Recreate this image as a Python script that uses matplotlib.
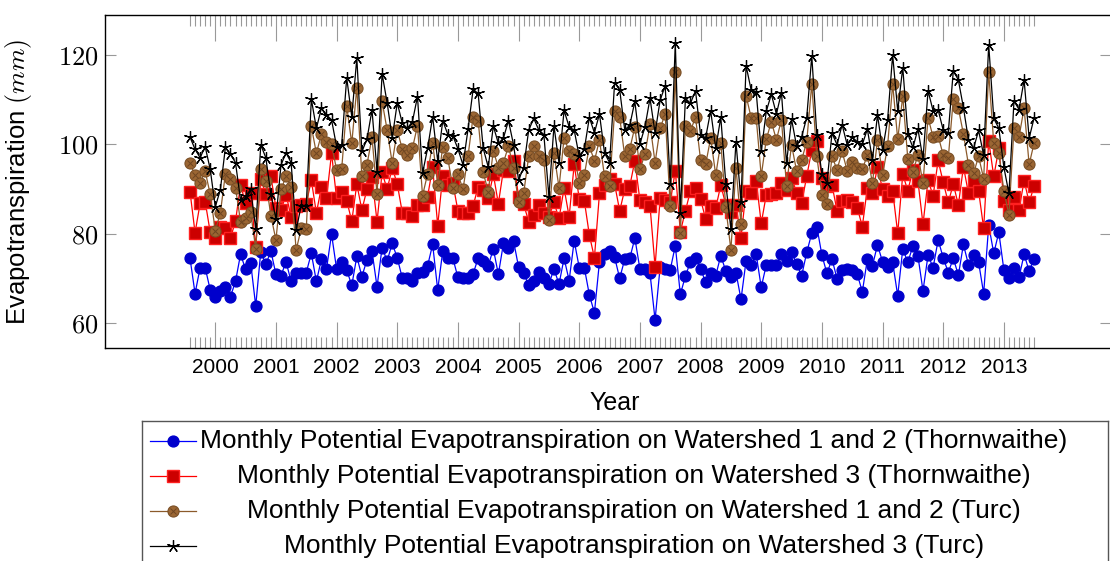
import numpy as np
import matplotlib.pyplot as plt
from matplotlib.ticker import FixedLocator
from matplotlib.lines import Line2D

plt.rcParams['font.family'] = ['Liberation Sans', 'DejaVu Sans']
plt.rcParams['mathtext.fontset'] = 'cm'

# meses: primer punto en 2000 - 5/12, pasos de 1/12
n_meses = 168
anio_ini = 2000 - 5 / 12

etp_thorn_12 = [
    74.5, 66.6, 72.4, 72.4, 67.4, 65.9, 67.2, 68.1, 65.9, 69.3, 75.4, 72.0,
    73.5, 63.8, 76.0, 73.1, 76.1, 70.9, 70.6, 73.7, 69.3, 71.3, 71.3, 71.3,
    75.6, 69.3, 74.3, 72.1, 79.9, 72.1, 73.6, 71.9, 68.4, 74.9, 70.4, 74.1,
    76.1, 68.1, 76.9, 73.9, 77.8, 74.6, 70.0, 70.0, 69.3, 71.1, 71.5, 72.8,
    77.6, 67.4, 76.1, 74.6, 74.5, 70.2, 70.0, 70.0, 71.0, 74.5, 73.9, 72.8,
    76.6, 70.9, 77.8, 76.7, 78.4, 72.5, 71.3, 68.4, 69.3, 71.5, 70.0, 68.7,
    72.1, 68.7, 74.5, 69.5, 78.4, 72.4, 72.4, 66.3, 62.3, 73.7, 75.5, 76.2,
    74.7, 70.0, 74.3, 74.5, 79.0, 72.1, 72.1, 71.1, 60.7, 72.5, 72.1, 71.9,
    77.3, 66.4, 70.5, 73.7, 74.5, 72.2, 69.1, 71.3, 70.6, 75.1, 71.6, 70.4,
    71.3, 65.3, 73.9, 73.0, 75.4, 68.0, 73.0, 73.0, 73.0, 75.4, 73.9, 76.0,
    73.2, 70.6, 75.8, 80.1, 81.6, 75.2, 71.1, 74.3, 69.9, 71.9, 72.0, 71.9,
    70.9, 67.0, 74.3, 72.8, 77.5, 73.7, 72.6, 73.6, 66.1, 76.6, 73.6, 77.2,
    75.0, 67.2, 75.2, 72.4, 78.6, 74.6, 71.3, 74.5, 70.7, 77.6, 73.0, 75.2,
    73.6, 66.6, 81.9, 75.6, 80.3, 71.9, 70.0, 72.4, 70.2, 75.4, 71.6, 74.4,
]

etp_thorn_3 = [
    89.4, 80.2, 86.8, 87.2, 80.3, 79.0, 81.6, 81.2, 79.0, 82.8, 90.9, 86.8,
    89.0, 77.1, 92.3, 88.8, 92.8, 85.8, 85.3, 88.7, 83.8, 86.1, 86.4, 86.7,
    92.0, 84.6, 90.5, 87.9, 98.0, 87.9, 89.4, 87.4, 82.8, 91.1, 85.3, 89.9,
    92.6, 82.7, 93.7, 89.9, 94.8, 91.1, 84.7, 84.7, 84.0, 86.4, 86.4, 88.3,
    94.9, 81.8, 93.0, 90.9, 91.3, 85.1, 84.7, 84.7, 86.2, 90.5, 89.8, 87.9,
    93.3, 86.7, 94.3, 94.1, 96.3, 88.3, 86.6, 82.7, 84.2, 86.4, 84.7, 83.8,
    87.0, 83.4, 90.2, 83.8, 95.5, 87.8, 87.4, 79.7, 74.6, 89.0, 90.9, 92.2,
    91.1, 85.1, 89.9, 90.7, 96.3, 87.5, 87.2, 86.2, 72.6, 87.9, 87.5, 87.0,
    94.1, 80.4, 85.1, 89.6, 90.2, 87.7, 83.3, 86.1, 85.7, 90.9, 86.4, 84.9,
    86.4, 79.1, 89.6, 89.2, 91.9, 82.3, 88.7, 88.8, 89.2, 91.4, 89.8, 92.5,
    89.2, 86.8, 92.9, 98.7, 100.8, 92.4, 90.7, 90.9, 85.1, 87.4, 87.5, 87.2,
    85.8, 81.6, 90.3, 89.0, 95.0, 89.9, 88.5, 89.6, 80.1, 93.3, 89.6, 94.3,
    91.8, 82.1, 92.0, 88.5, 96.4, 91.5, 87.0, 91.1, 86.4, 95.0, 89.0, 91.7,
    89.6, 81.2, 100.8, 92.8, 99.1, 87.4, 85.3, 88.1, 85.3, 91.9, 87.0, 90.7,
]

etp_turc_12 = [
    95.8, 93.1, 91.4, 94.0, 88.8, 80.7, 84.6, 93.4, 92.2, 90.3, 82.7, 83.4,
    84.8, 76.6, 94.4, 91.7, 84.0, 78.6, 89.9, 92.8, 90.5, 76.3, 81.2, 81.1,
    104.0, 98.0, 102.3, 100.6, 100.0, 94.3, 94.4, 108.6, 100.2, 112.7, 92.8, 95.4,
    101.6, 88.8, 109.6, 103.2, 95.8, 103.2, 98.9, 97.6, 99.1, 104.2, 88.5, 93.4,
    100.4, 90.9, 99.5, 96.9, 90.2, 93.4, 89.9, 97.4, 106.2, 105.3, 93.7, 89.4,
    98.6, 94.8, 95.9, 99.6, 94.6, 87.0, 89.0, 97.3, 99.7, 97.3, 96.5, 83.1,
    98.0, 90.3, 101.5, 98.4, 97.8, 91.4, 93.1, 99.6, 96.3, 101.0, 92.8, 90.7,
    107.5, 106.1, 97.3, 99.0, 103.9, 94.4, 97.8, 104.5, 95.9, 103.6, 106.8, 86.1,
    116.1, 80.2, 104.1, 103.0, 106.1, 96.5, 95.5, 101.4, 93.1, 100.4, 85.9, 76.3,
    94.8, 82.1, 110.9, 106.0, 106.0, 92.9, 101.1, 105.1, 101.0, 105.5, 90.7, 99.9,
    94.0, 96.5, 100.6, 113.5, 97.3, 88.7, 86.7, 97.3, 94.3, 98.4, 94.1, 96.1,
    94.8, 94.4, 97.6, 91.3, 101.0, 93.1, 99.6, 113.5, 101.1, 110.8, 96.7, 93.9,
    97.6, 91.3, 106.0, 101.6, 101.9, 97.6, 96.9, 110.2, 108.1, 102.3, 95.4, 93.5,
    97.3, 92.3, 116.1, 100.2, 98.1, 89.6, 84.2, 103.6, 101.7, 108.1, 95.5, 100.4,
]

etp_turc_3 = [
    101.6, 98.9, 97.0, 99.5, 94.4, 86.0, 89.8, 99.3, 97.8, 95.9, 87.5, 88.4,
    89.9, 81.1, 99.9, 97.0, 88.8, 83.3, 95.4, 98.1, 95.9, 80.8, 86.3, 86.3,
    110.1, 103.6, 108.1, 106.6, 105.5, 99.5, 99.9, 114.9, 106.2, 119.3, 98.4, 101.1,
    107.7, 93.9, 115.8, 109.3, 101.4, 109.3, 104.7, 103.6, 105.1, 110.7, 93.5, 99.1,
    106.2, 96.3, 105.3, 102.2, 101.9, 99.0, 95.4, 103.4, 112.3, 111.4, 99.1, 94.9,
    104.1, 100.2, 101.4, 105.3, 99.9, 92.0, 94.8, 103.2, 105.8, 103.2, 102.2, 88.3,
    104.1, 95.8, 107.6, 103.9, 103.2, 97.3, 98.9, 106.0, 102.6, 106.8, 98.1, 95.9,
    113.8, 112.2, 103.2, 104.3, 109.6, 100.1, 103.9, 110.3, 102.5, 109.9, 113.1, 91.1,
    122.8, 84.7, 110.3, 109.2, 112.0, 102.1, 101.5, 107.5, 99.1, 106.1, 91.1, 81.0,
    100.6, 87.2, 117.6, 112.2, 111.8, 98.4, 107.4, 111.2, 106.8, 111.6, 95.8, 105.6,
    99.6, 101.7, 106.0, 119.8, 102.1, 93.3, 91.4, 102.5, 99.9, 104.4, 99.9, 101.6,
    100.6, 100.0, 103.4, 96.5, 106.6, 98.7, 105.5, 120.0, 107.5, 117.2, 102.3, 99.3,
    103.4, 96.7, 112.0, 107.5, 107.7, 103.2, 102.6, 116.5, 114.4, 108.2, 101.0, 99.1,
    103.1, 97.6, 122.3, 105.8, 103.6, 94.9, 89.0, 109.7, 107.8, 114.4, 101.4, 106.0,
]

anios = list(range(2000, 2014))
y_ticks = [60, 80, 100, 120]

etiquetas = [
    "Monthly Potential Evapotranspiration on Watershed 1 and 2 (Thornwaithe)",
    "Monthly Potential Evapotranspiration on Watershed 3 (Thornwaithe)",
    "Monthly Potential Evapotranspiration on Watershed 1 and 2 (Turc)",
    "Monthly Potential Evapotranspiration on Watershed 3 (Turc)",
]

x = anio_ini + np.arange(n_meses) / 12

# estilos de cada serie
estilos = [
    dict(color="#0000ff", marker="o", ms=7.8, mfc="#0000cc", mec="#0000cc", lw=0.9),
    dict(color="#ff0000", marker="s", ms=8.2, mfc="#cc0000", mec="#ff2020", mew=1.0, lw=0.9),
    dict(color="#8b5a2b", marker="o", ms=8.0, mfc="#9b6633", mec="#7a4f26", mew=0.8, lw=0.9),
    dict(color="black", marker=(5, 2, 0), ms=9.0, mew=0.9, lw=0.9),
]
series = [etp_thorn_12, etp_thorn_3, etp_turc_12, etp_turc_3]

W, H = 1110, 561
fig = plt.figure(figsize=(W / 100, H / 100), dpi=100)
ax = fig.add_axes([105 / W, 1 - 348 / H, 1006 / W, 333 / H])

for vals, st in zip(series, estilos):
    ax.plot(x, vals, **st)
    if st["marker"] == "o" and st["mfc"] == "#9b6633":
        # cruz de relleno del circulo marron
        ax.plot(x, vals, ls="none", marker="x", ms=5.0, mew=0.7, color="#6e4522")

ax.set_xlim(1998.182, 2014.766)
ax.set_ylim(54.4, 128.96)

ax.xaxis.set_major_locator(FixedLocator(anios))
ax.xaxis.set_minor_locator(FixedLocator(x))
ax.set_xticklabels([str(a) for a in anios], fontsize=15)
ax.set_yticks(y_ticks)
ax.set_yticklabels([r"$%d$" % v for v in y_ticks], fontsize=19)

ax.tick_params(axis="x", which="major", direction="in", length=18.5, width=0.8,
               color="#999999", top=True, pad=7)
ax.tick_params(axis="x", which="minor", direction="in", length=7.8, width=0.8,
               color="#999999", top=True)
ax.tick_params(axis="y", which="major", direction="in", length=7.8, width=0.8,
               color="#999999", right=True, pad=5)
for sp in ax.spines.values():
    sp.set_linewidth(1.0)

ax.set_xlabel("Year", fontsize=18)
ax.xaxis.set_label_coords((615 - 105) / 1006, -0.128)
ax.set_ylabel(r"Evapotranspiration $(mm)$", fontsize=18.5)
ax.yaxis.set_label_coords((34 - 105) / 1006, 0.5)

# leyenda con texto centrado (como en pgfplots)
lax = fig.add_axes([142 / W, -20 / H, (1108 - 142) / W, (H - 421 + 20) / H])
lax.set_xlim(142, 1108)
lax.set_ylim(H + 20, 421)
lax.set_xticks([])
lax.set_yticks([])
for sp in lax.spines.values():
    sp.set_color("#555555")
    sp.set_linewidth(1.0)
filas = [441, 476, 511, 546]
for fila, lab, st in zip(filas, etiquetas, estilos):
    lax.add_line(Line2D([150, 196], [fila, fila], markevery=[], **st))
    lax.add_line(Line2D([173], [fila], ls="none", **{k: v for k, v in st.items() if k != "lw"}))
    if st.get("mfc") == "#9b6633":
        lax.add_line(Line2D([173], [fila], ls="none", marker="x", ms=5.0, mew=0.7, color="#6e4522"))
    lax.text(634, fila, lab, ha="center", va="center", fontsize=19)

fig.savefig("out.png", dpi=100)
